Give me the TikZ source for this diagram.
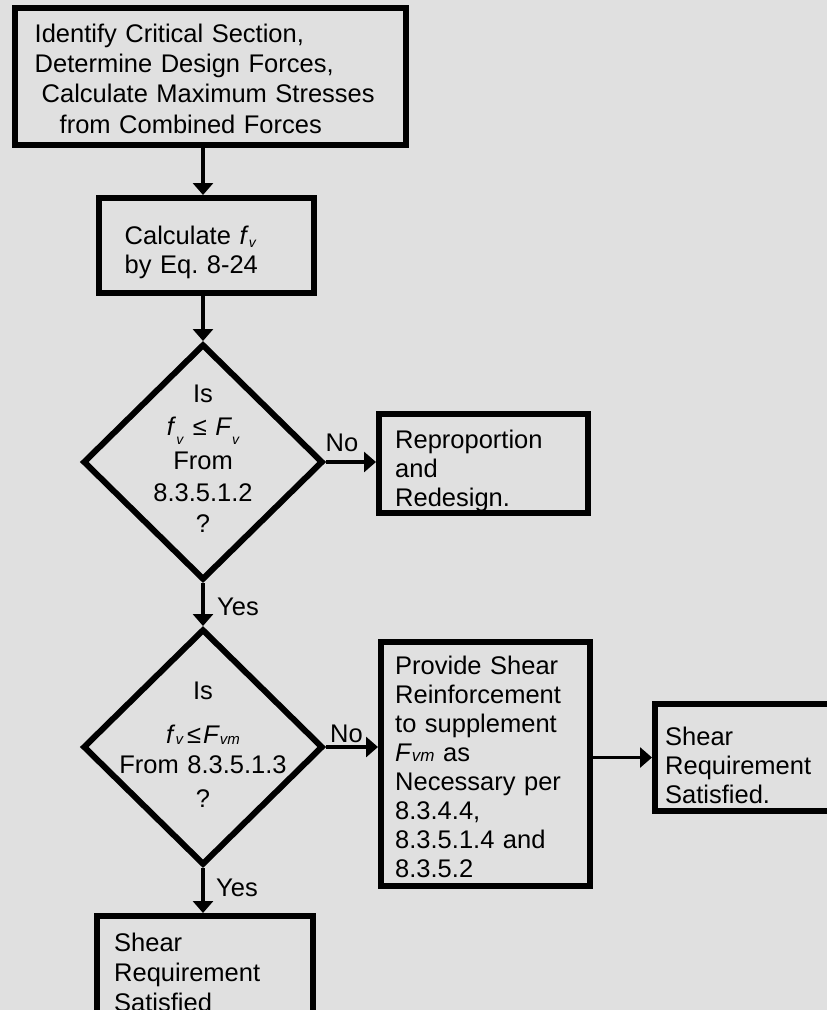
\documentclass[tikz,border=0pt]{standalone}
\usepackage{fontspec}
\setmainfont{Liberation Sans}
\usetikzlibrary{shapes.geometric,arrows.meta}
\definecolor{bgcol}{RGB}{224,224,224}
\newcommand\subtxt[3]{\raisebox{-#1}{\fontsize{#2}{#2}\selectfont\itshape #3}}
\frenchspacing
\begin{document}
\begin{tikzpicture}[x=1pt,y=-1pt,
  box/.style={draw=black, line width=6pt, rectangle, inner sep=0pt},
  dia/.style={draw=black, line width=6pt, diamond, inner sep=0pt, minimum width=240pt, minimum height=236pt},
  txt/.style={inner sep=0pt, anchor=base west, align=left, font=\fontsize{25.5}{29}\selectfont},
  ctxt/.style={inner sep=0pt, anchor=base, align=center, text width=220pt, font=\fontsize{25.5}{29}\selectfont},
  lbl/.style={inner sep=0pt, anchor=base west, font=\fontsize{25.5}{29}\selectfont},
  arr/.style={line width=4.5pt, -{Triangle[width=20pt,length=12pt]}},
  harr/.style={line width=3.5pt, -{Triangle[width=20pt,length=12pt]}}
]
\useasboundingbox (0,0) rectangle (827,1010);
\clip (0,0) rectangle (827,1010);
\fill[bgcol] (0,0) rectangle (827,1010);

% boxes and decisions
\node[box, minimum width=391pt, minimum height=137pt] (b1) at (210.5,76.5) {};
\node[box, minimum width=215pt, minimum height=95pt] (b2) at (206.5,245.5) {};
\node[dia] (d1) at (203,462) {};
\node[box, minimum width=209pt, minimum height=99pt] (b3) at (483.5,463.5) {};
\node[dia] (d2) at (203,747) {};
\node[box, minimum width=209pt, minimum height=244pt] (b4) at (485.5,764) {};
\node[box, minimum width=185pt, minimum height=107pt] (b5) at (747.5,757.5) {};
\node[box, minimum width=216pt, minimum height=114pt] (b6) at (205,973) {};

% texts
\node[txt, text width=380pt, font=\fontsize{25.5}{30}\selectfont] (t1) at (34.5,42.5)
  {Identify Critical Section,\\
   Determine Design Forces,\\
   \hspace*{7pt}Calculate Maximum Stresses\\[1pt]
   \hspace*{25pt}from Combined Forces};
\node[txt, text width=200pt] (t2) at (124.5,244)
  {Calculate \textit{f}\subtxt{3pt}{14}{v}\\by Eq. 8-24};
\node[ctxt] (t3) at (203,402)
  {Is\\[4pt]
   \textit{f}\subtxt{9pt}{14}{v}\hspace{1pt} ≤ \textit{F}\subtxt{9pt}{14}{v}\\[5pt]
   From\\[3pt]
   8.3.5.1.2\\[2pt]
   ?};
\node[txt, text width=195pt] (t4) at (395,448.5)
  {Reproportion\\and\\Redesign.};
\node[ctxt] (t5) at (203,699)
  {Is\\[15pt]
   \textit{f}\subtxt{1.5pt}{15}{v}\hspace{4pt}≤\hspace{2pt}\textit{F}\subtxt{1.5pt}{15}{vm}\\[1pt]
   From 8.3.5.1.3\\[5pt]
   ?};
\node[txt, text width=192pt, font=\fontsize{25.5}{29.1}\selectfont] (t6) at (395,674)
  {Provide Shear\\Reinforcement\\to supplement\\\textit{F}\subtxt{0pt}{17}{vm} as\\Necessary per\\8.3.4.4,\\8.3.5.1.4 and\\8.3.5.2};
\node[txt, text width=170pt] (t7) at (665,745)
  {Shear\\Requirement\\Satisfied.};
\node[txt, text width=195pt, font=\fontsize{25.5}{30}\selectfont] (t8) at (114,951.7)
  {Shear\\Requirement\\Satisfied};

% connectors
\draw[arr] (b1.south -| d1.north) -- (b2.north -| d1.north);
\draw[arr] (b2.south -| d1.north) -- (d1.north);
\draw[harr] (d1.east) -- (d1.east -| b3.west);
\draw[arr] (d1.south) -- (d2.north);
\draw[harr] (d2.east) -- (d2.east -| b4.west);
\draw[harr] (b5.west -| b4.east) -- (b5.west);
\draw[arr] (d2.south) -- (b6.north -| d2.south);

% labels
\node[lbl] (no1) at (325.5,451) {No};
\node[lbl] (no2) at (330,742) {No};
\node[lbl] (yes1) at (217,615) {Yes};
\node[lbl] (yes2) at (216,896) {Yes};
\end{tikzpicture}
\end{document}
